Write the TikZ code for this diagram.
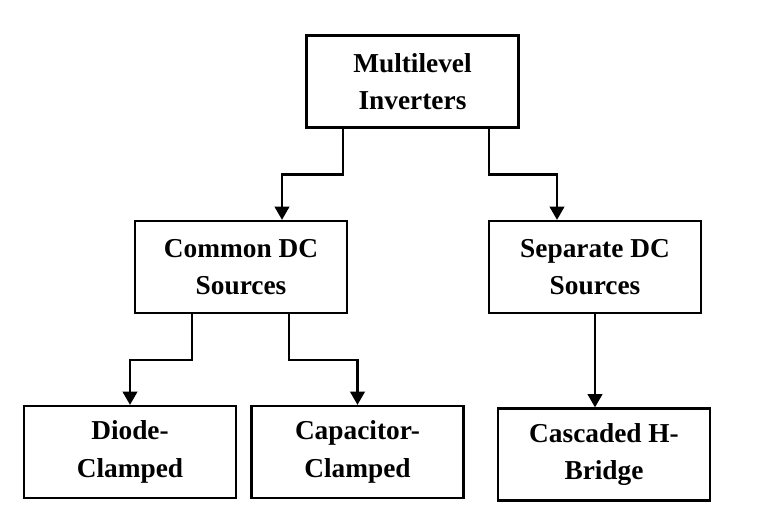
\documentclass[tikz,border=0pt]{standalone}
\usepackage{fontspec}
\setmainfont{Liberation Serif}
\usetikzlibrary{arrows.meta}

\begin{document}
\begin{tikzpicture}[
  x = 0.75pt, y = -0.75pt,
  box/.style = {draw, line width = 1.7pt, inner sep = 0pt,
    minimum width = 159pt, minimum height = 69pt, align = center,
    font = \fontsize{20.5}{28}\selectfont\bfseries},
  link/.style = {line width = 1.7pt, -{Triangle[length = 10pt, width = 11pt]}}
  ]
  \useasboundingbox (0,0) rectangle (758,530);
  % top level
  \node[box] (ml) at (412.5,81.5) {Multilevel\\Inverters};
  % second level
  \node[box] (common) at (241,267) {Common DC\\Sources};
  \node[box] (sep) at (595,267) {Separate DC\\Sources};
  % leaves
  \node[box] (diode) at (130,452) {Diode-\\Clamped};
  \node[box] (cap) at (357.5,452) {Capacitor-\\Clamped};
  \node[box] (cas) at (604,454.5) {Cascaded H-\\Bridge};
  % connectors
  \draw[link] ([xshift=-52pt]ml.south) -- ++(0,46) -| ([xshift=30.75pt]common.north);
  \draw[link] ([xshift=57.4pt]ml.south) -- ++(0,46) -| ([xshift=-28.5pt]sep.north);
  \draw[link] ([xshift=-36.75pt]common.south) -- ++(0,46) -| (diode.north);
  \draw[link] ([xshift=36pt]common.south) -- ++(0,46) -| (cap.north);
  \draw[link] (sep.south) -- (sep.south |- cas.north);
\end{tikzpicture}
\end{document}
